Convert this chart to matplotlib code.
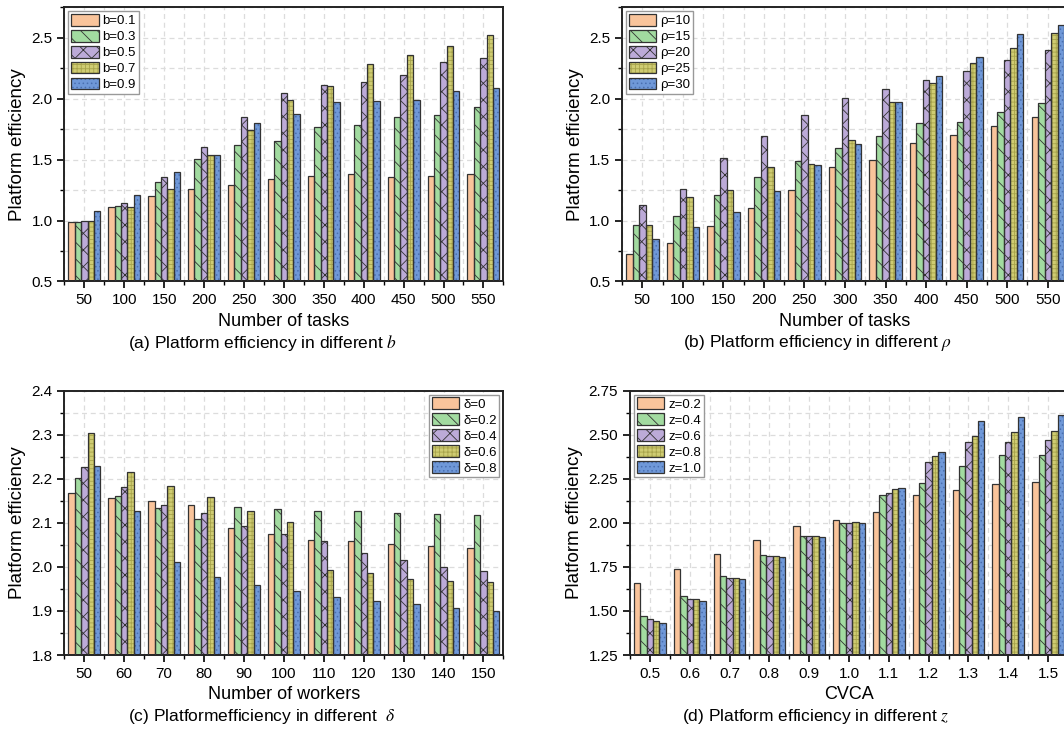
import matplotlib
matplotlib.use('Agg')
import matplotlib.pyplot as plt
import numpy as np
from matplotlib.ticker import MultipleLocator, FormatStrFormatter

plt.rcParams['font.family'] = ['Liberation Sans', 'DejaVu Sans']
plt.rcParams['mathtext.fontset'] = 'stix'
plt.rcParams['hatch.linewidth'] = 0.6

# ---- data ----
tasks = [50, 100, 150, 200, 250, 300, 350, 400, 450, 500, 550]
b_labels = ['b=0.1', 'b=0.3', 'b=0.5', 'b=0.7', 'b=0.9']
b_01 = [0.986, 1.109, 1.200, 1.257, 1.295, 1.340, 1.363, 1.380, 1.360, 1.366, 1.380]
b_03 = [0.992, 1.117, 1.320, 1.508, 1.617, 1.653, 1.768, 1.787, 1.852, 1.863, 1.934]
b_05 = [1.000, 1.145, 1.355, 1.607, 1.850, 2.046, 2.109, 2.134, 2.197, 2.300, 2.336]
b_07 = [0.994, 1.115, 1.262, 1.538, 1.743, 1.989, 2.104, 2.287, 2.360, 2.434, 2.525]
b_09 = [1.077, 1.208, 1.396, 1.538, 1.798, 1.872, 1.973, 1.978, 1.986, 2.060, 2.087]

rho_labels = ['ρ=10', 'ρ=15', 'ρ=20', 'ρ=25', 'ρ=30']
rho_10 = [0.729, 0.814, 0.958, 1.101, 1.248, 1.441, 1.493, 1.634, 1.706, 1.772, 1.852]
rho_15 = [0.963, 1.038, 1.212, 1.358, 1.490, 1.592, 1.694, 1.797, 1.805, 1.888, 1.962]
rho_20 = [1.129, 1.261, 1.515, 1.694, 1.868, 2.003, 2.078, 2.155, 2.227, 2.318, 2.398]
rho_25 = [0.961, 1.192, 1.253, 1.441, 1.468, 1.661, 1.970, 2.128, 2.293, 2.420, 2.541]
rho_30 = [0.848, 0.944, 1.074, 1.245, 1.452, 1.631, 1.973, 2.186, 2.343, 2.533, 2.605]

workers = [50, 60, 70, 80, 90, 100, 110, 120, 130, 140, 150]
delta_labels = ['δ=0', 'δ=0.2', 'δ=0.4', 'δ=0.6', 'δ=0.8']
delta_0 = [2.167, 2.156, 2.149, 2.141, 2.089, 2.075, 2.062, 2.058, 2.051, 2.047, 2.044]
delta_02 = [2.202, 2.162, 2.133, 2.108, 2.135, 2.131, 2.128, 2.126, 2.123, 2.121, 2.119]
delta_04 = [2.227, 2.182, 2.141, 2.123, 2.092, 2.074, 2.058, 2.032, 2.015, 2.001, 1.990]
delta_06 = [2.303, 2.216, 2.183, 2.158, 2.128, 2.102, 1.993, 1.987, 1.972, 1.969, 1.966]
delta_08 = [2.230, 2.128, 2.012, 1.977, 1.959, 1.946, 1.932, 1.923, 1.915, 1.907, 1.899]

cvca = [0.5, 0.6, 0.7, 0.8, 0.9, 1.0, 1.1, 1.2, 1.3, 1.4, 1.5]
z_labels = ['z=0.2', 'z=0.4', 'z=0.6', 'z=0.8', 'z=1.0']
z_02 = [1.657, 1.736, 1.821, 1.903, 1.984, 2.014, 2.063, 2.156, 2.186, 2.218, 2.230]
z_04 = [1.473, 1.583, 1.698, 1.817, 1.923, 1.997, 2.156, 2.228, 2.324, 2.383, 2.385]
z_06 = [1.452, 1.566, 1.685, 1.812, 1.923, 2.001, 2.167, 2.345, 2.457, 2.462, 2.468]
z_08 = [1.445, 1.566, 1.685, 1.812, 1.923, 2.007, 2.190, 2.379, 2.496, 2.515, 2.521]
z_10 = [1.433, 1.558, 1.679, 1.806, 1.921, 1.997, 2.196, 2.400, 2.578, 2.602, 2.612]

# fill, hatch, hatch colour
styles = [
    ('#F9C49B', '', '#333333'),
    ('#A2DBA0', '\\\\', '#333333'),
    ('#BCAAD8', 'xx', '#333333'),
    ('#CFCC72', '++++', '#A8A44C'),
    ('#6F98D8', '....', '#4A6FB0'),
]


def grouped(ax, x, series, labels, step, legend_loc):
    x = np.array(x)
    w = step * 0.16
    handles = []
    for i, (vals, lab) in enumerate(zip(series, labels)):
        fc, hatch, hc = styles[i]
        pos = x + (i - 2) * w
        b1 = ax.bar(pos, vals, w, color=fc, hatch=hatch, edgecolor=hc, linewidth=0, zorder=2)
        b2 = ax.bar(pos, vals, w, facecolor='none', edgecolor='#333333', linewidth=0.9, zorder=3)
        handles.append((b1[0], b2[0]))
    ax.set_xlim(x[0] - step / 2, x[-1] + step / 2)
    ax.set_xticks(x)
    ax.xaxis.set_minor_locator(MultipleLocator(step / 2))
    leg = ax.legend(handles, labels, loc=legend_loc, fontsize=9.5, handlelength=2.1,
                    handleheight=1.0, labelspacing=0.19, borderpad=0.2, handletextpad=0.3,
                    borderaxespad=0.3, fancybox=False, framealpha=1)
    leg.get_frame().set_edgecolor('#999999')
    leg.get_frame().set_linewidth(1.0)


def style_axes(ax, ylo, yhi, major, fmt):
    ax.set_ylim(ylo, yhi)
    ax.yaxis.set_major_locator(MultipleLocator(major))
    ax.yaxis.set_minor_locator(MultipleLocator(major / 2))
    ax.yaxis.set_major_formatter(FormatStrFormatter(fmt))
    ax.grid(True, which='both', linestyle=(0, (4, 3)), color='#dcdcdc', linewidth=0.9, zorder=0)
    ax.set_axisbelow(True)
    for s in ax.spines.values():
        s.set_linewidth(1.4)
        s.set_color('#222222')
    ax.tick_params(which='major', direction='out', length=5, width=1.2, labelsize=11)
    ax.tick_params(which='minor', direction='out', length=3, width=1.0)
    ax.set_ylabel('Platform efficiency', fontsize=13.5)


fig = plt.figure(figsize=(10.64, 7.30), dpi=100)
ax_a = fig.add_axes([0.0605, 0.6144, 0.4126, 0.3756])
ax_b = fig.add_axes([0.5846, 0.6144, 0.4192, 0.3756])
ax_c = fig.add_axes([0.0605, 0.1027, 0.4126, 0.3620])
ax_d = fig.add_axes([0.5921, 0.1027, 0.4117, 0.3620])

grouped(ax_a, tasks, [b_01, b_03, b_05, b_07, b_09], b_labels, 50, 'upper left')
style_axes(ax_a, 0.5, 2.75, 0.5, '%.1f')
ax_a.set_xlabel('Number of tasks', fontsize=13)

grouped(ax_b, tasks, [rho_10, rho_15, rho_20, rho_25, rho_30], rho_labels, 50, 'upper left')
style_axes(ax_b, 0.5, 2.75, 0.5, '%.1f')
ax_b.set_xlabel('Number of tasks', fontsize=13)

grouped(ax_c, workers, [delta_0, delta_02, delta_04, delta_06, delta_08], delta_labels, 10, 'upper right')
style_axes(ax_c, 1.8, 2.4, 0.1, '%.1f')
ax_c.set_xlabel('Number of workers', fontsize=13)

grouped(ax_d, cvca, [z_02, z_04, z_06, z_08, z_10], z_labels, 0.1, 'upper left')
style_axes(ax_d, 1.25, 2.75, 0.25, '%.2f')
ax_d.xaxis.set_major_formatter(FormatStrFormatter('%.1f'))
ax_d.set_xlabel('CVCA', fontsize=13)

fig.text(0.247, 0.530, r'(a) Platform efficiency in different $b$', ha='center', va='center', fontsize=12.5)
fig.text(0.768, 0.530, r'(b) Platform efficiency in different $\rho$', ha='center', va='center', fontsize=12.5)
fig.text(0.246, 0.018, r'(c) Platformefficiency in different  $\delta$', ha='center', va='center', fontsize=12.5)
fig.text(0.767, 0.018, r'(d) Platform efficiency in different $z$', ha='center', va='center', fontsize=12.5)

fig.savefig('out.png', dpi=100)
